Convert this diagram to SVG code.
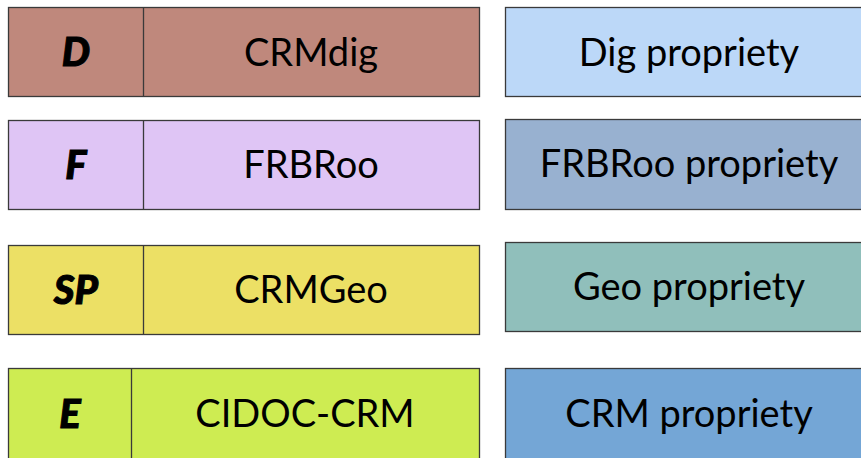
<svg xmlns="http://www.w3.org/2000/svg" width="861" height="458" viewBox="0 0 861 458">
<style>
.b{stroke:#3a3a3a;stroke-width:1.3}
.t{font-family:Lato,"Open Sans",sans-serif;font-size:38px;fill:#000;text-anchor:middle}
.k{font-family:Lato,"Open Sans",sans-serif;font-size:40px;font-weight:900;font-style:italic;fill:#000;stroke:#000;stroke-width:1;text-anchor:middle}
</style>
<rect width="861" height="458" fill="#fff"/>
<g id="row-d">
<rect class="b" x="8.5" y="7.5" width="471" height="89" fill="#BF887C"/>
<line class="b" x1="143.5" y1="7.5" x2="143.5" y2="96.5"/>
<text class="k" x="76" y="66">D</text>
<text class="t" x="311" y="66">CRMdig</text>
</g>
<g id="dig-prop">
<rect class="b" x="505.5" y="7.5" width="370" height="89" fill="#BCD8F8"/>
<text class="t" x="689" y="66">Dig propriety</text>
</g>
<g id="row-f">
<rect class="b" x="8.5" y="120.5" width="471" height="89" fill="#DFC5F5"/>
<line class="b" x1="143.5" y1="120.5" x2="143.5" y2="209.5"/>
<text class="k" x="76" y="179">F</text>
<text class="t" x="311" y="178">FRBRoo</text>
</g>
<g id="frbr-prop">
<rect class="b" x="505.5" y="119.5" width="370" height="90" fill="#98B1D0"/>
<text class="t" x="689" y="177">FRBRoo propriety</text>
</g>
<g id="row-sp">
<rect class="b" x="8.5" y="245.5" width="471" height="89" fill="#ECE065"/>
<line class="b" x1="143.5" y1="245.5" x2="143.5" y2="334.5"/>
<text class="k" x="76" y="304">SP</text>
<text class="t" x="311" y="303">CRMGeo</text>
</g>
<g id="geo-prop">
<rect class="b" x="505.5" y="242.5" width="370" height="89" fill="#90BFBB"/>
<text class="t" x="689" y="300">Geo propriety</text>
</g>
<g id="row-e">
<rect class="b" x="8.5" y="368.5" width="471" height="95" fill="#CEEC52"/>
<line class="b" x1="131.5" y1="368.5" x2="131.5" y2="463"/>
<text class="k" x="70" y="428">E</text>
<text class="t" x="305" y="427">CIDOC-CRM</text>
</g>
<g id="crm-prop">
<rect class="b" x="505.5" y="368.5" width="370" height="95" fill="#74A6D6"/>
<text class="t" x="689" y="427">CRM propriety</text>
</g>
</svg>
